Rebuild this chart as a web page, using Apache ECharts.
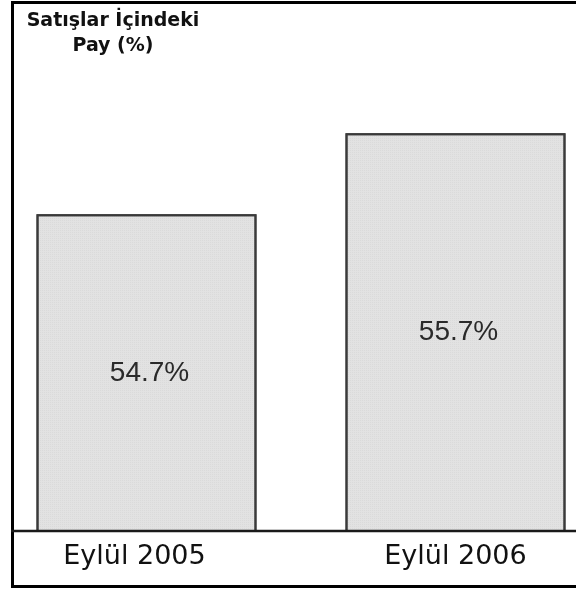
<!DOCTYPE html>
<html>
<head>
<meta charset="utf-8">
<script src="https://cdn.jsdelivr.net/npm/echarts@6/dist/echarts.min.js"></script>
<style>
  html, body { margin: 0; padding: 0; background: #fff; }
  #chart { width: 576px; height: 590px; }
</style>
</head>
<body>
<div id="chart"></div>
<script>
// Share of sales, September of each year
const categories = ['Eylül 2005', 'Eylül 2006'];
const shareValues = [54.7, 55.7];
const titleLines = ['Satışlar İçindeki', 'Pay (%)'];

const chart = echarts.init(document.getElementById('chart'), null, { renderer: 'canvas' });

const plotBottom = 59;           // distance from canvas bottom to the baseline
const baselineY = 590 - plotBottom;

// the first category label sits a little left of its bar
const categoryItems = categories.map((name, i) => ({
  value: name,
  textStyle: i === 0 ? { padding: [0, 24, 0, 0] } : {}
}));

chart.setOption({
  animation: false,
  backgroundColor: '#ffffff',
  title: {
    text: titleLines.join('\n'),
    left: 113,
    top: 9,
    padding: 0,
    textAlign: 'center',
    textStyle: {
      fontFamily: 'DejaVu Sans',
      fontSize: 19,
      fontWeight: 'bold',
      lineHeight: 25,
      color: '#111',
      align: 'center'
    }
  },
  grid: { left: -8, width: 618, top: 28, bottom: plotBottom, outerBoundsMode: 'none', containLabel: false },
  xAxis: {
    type: 'category',
    data: categoryItems,
    axisLine: { show: false },
    axisTick: { show: false },
    axisLabel: {
      margin: 12,
      fontFamily: 'DejaVu Sans',
      fontSize: 27,
      color: '#111'
    }
  },
  yAxis: {
    type: 'value',
    min: 50.79,
    max: 57.0,
    show: false,
    splitLine: { show: false }
  },
  series: [{
    type: 'bar',
    data: shareValues,
    barWidth: 220,
    itemStyle: {
      color: '#e2e2e2',
      borderColor: '#3a3a3a',
      borderWidth: 2,
      decal: {
        symbol: 'rect',
        symbolSize: 1,
        dashArrayX: [1, 1],
        dashArrayY: [1, 1],
        color: 'rgba(0,0,0,0.035)'
      }
    },
    label: {
      show: true,
      position: 'inside',
      offset: [3, 0],
      formatter: p => p.value.toFixed(1) + '%',
      fontFamily: 'Liberation Sans',
      fontSize: 28,
      color: '#2a2a2a'
    }
  }],
  graphic: [
    {
      type: 'rect',
      shape: { x: 12.5, y: 2.5, width: 620, height: 584 },
      style: { fill: null, stroke: '#000', lineWidth: 3 },
      silent: true,
      z: 10
    },
    {
      type: 'line',
      shape: { x1: 11, y1: baselineY, x2: 576, y2: baselineY },
      style: { stroke: '#1a1a1a', lineWidth: 2.5 },
      silent: true,
      z: 10
    }
  ]
});
</script>
</body>
</html>
